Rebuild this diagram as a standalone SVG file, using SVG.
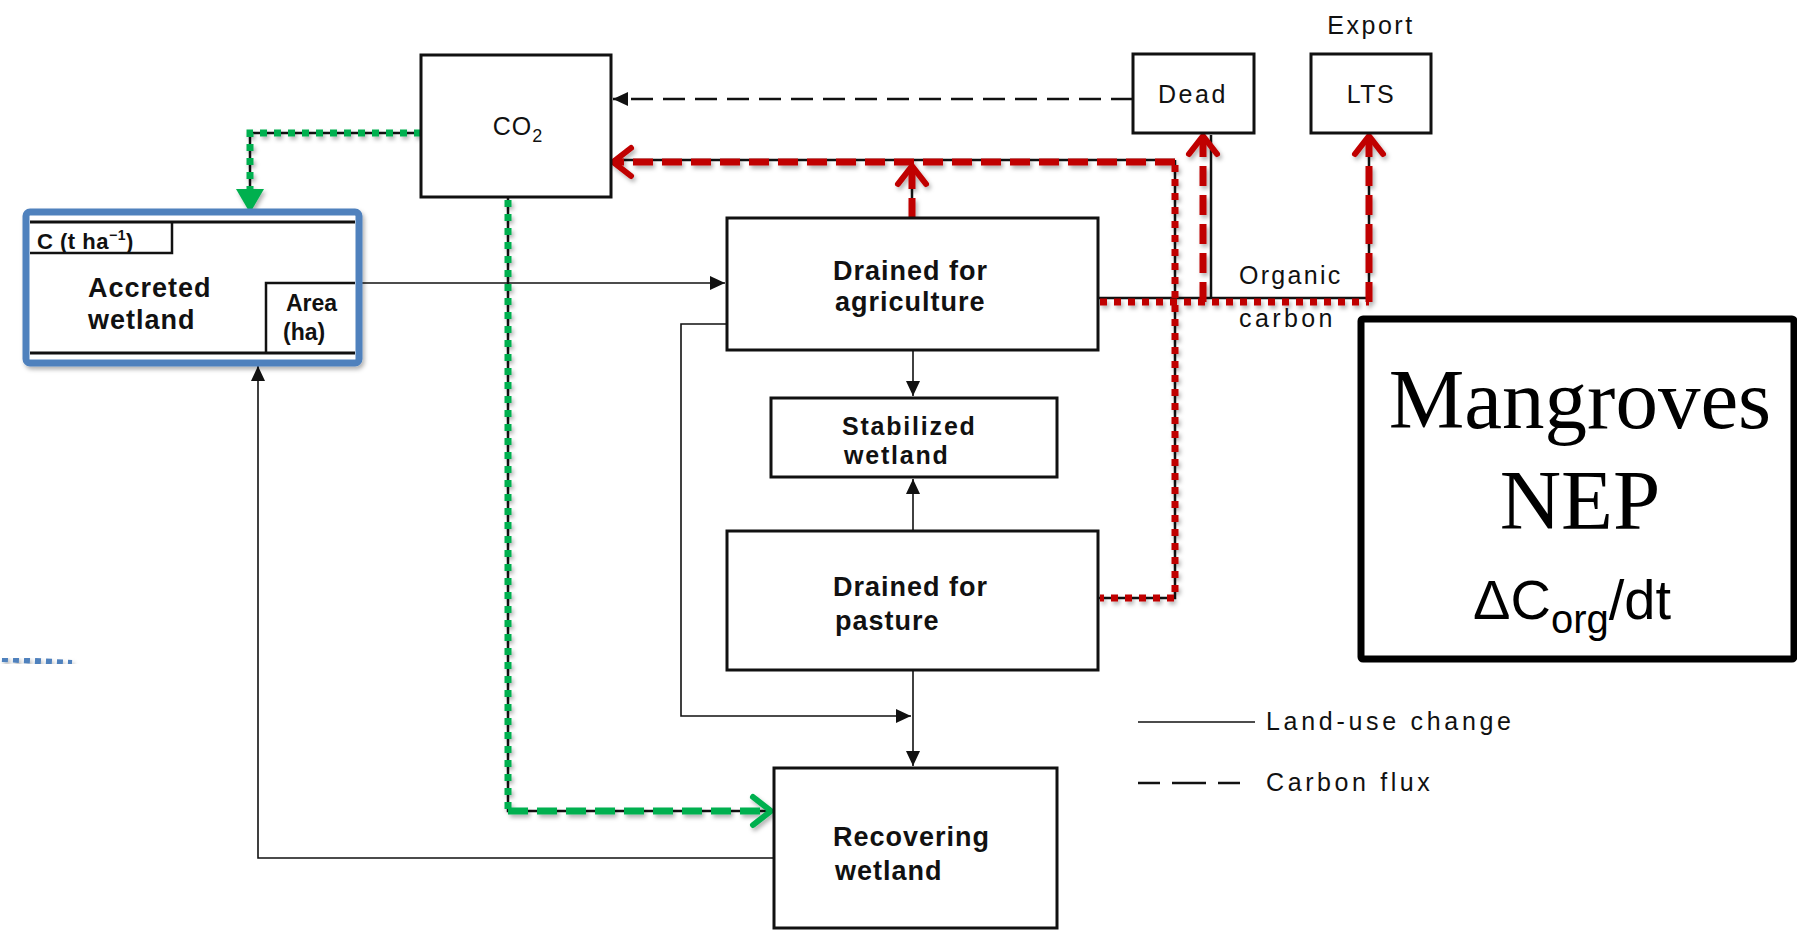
<svg xmlns="http://www.w3.org/2000/svg" width="1797" height="938" viewBox="0 0 1797 938">
<style>
.box{fill:#fff;stroke:#111;stroke-width:3}
.lbl{font-family:"Liberation Sans",Arial,sans-serif;font-weight:bold;font-size:27px;letter-spacing:1px;fill:#111}
.thin{font-family:"Liberation Sans",Arial,sans-serif;font-size:25px;letter-spacing:1.5px;fill:#111}
.ln{fill:none;stroke:#111;stroke-width:1.6}
.flux{fill:none;stroke:#111;stroke-width:2.5;stroke-dasharray:22 10}
.rdash{fill:none;stroke:#c00000;stroke-width:7;stroke-dasharray:20 9}
.rdot{fill:none;stroke:#c00000;stroke-width:7;stroke-dasharray:7 7}
.gdash{fill:none;stroke:#00b050;stroke-width:7;stroke-dasharray:20 9}
.gdot{fill:none;stroke:#00b050;stroke-width:7;stroke-dasharray:7 7}
</style>
<defs>
<filter id="sh" x="-10%" y="-10%" width="130%" height="130%">
<feDropShadow dx="2" dy="3" stdDeviation="2" flood-color="#000" flood-opacity="0.3"/>
</filter>
<marker id="ab" markerUnits="userSpaceOnUse" viewBox="-16 -8 18 16" refX="0" refY="0" markerWidth="18" markerHeight="16" orient="auto">
<path d="M-15,-7 L0,0 L-15,7 Z" fill="#111"/>
</marker>
<marker id="rc" markerUnits="userSpaceOnUse" viewBox="-24 -19 28 38" refX="0" refY="0" markerWidth="28" markerHeight="38" orient="auto">
<path d="M-18,-14 L0,0 L-18,14" fill="none" stroke="#c00000" stroke-width="6" stroke-linecap="round" stroke-linejoin="round"/>
</marker>
<marker id="gc" markerUnits="userSpaceOnUse" viewBox="-24 -19 28 38" refX="0" refY="0" markerWidth="28" markerHeight="38" orient="auto">
<path d="M-18,-14 L0,0 L-18,14" fill="none" stroke="#00b050" stroke-width="6" stroke-linecap="round" stroke-linejoin="round"/>
</marker>
</defs>
<rect width="1797" height="938" fill="#fff"/>

<g id="connectors">
<!-- land-use change lines -->
<path class="ln" d="M359,283 H725" marker-end="url(#ab)"/>
<path class="ln" d="M727,324 H681 V716 H911" marker-end="url(#ab)"/>
<path class="ln" d="M913,670 V766" marker-end="url(#ab)"/>
<path class="ln" d="M913,350 V396" marker-end="url(#ab)"/>
<path class="ln" d="M913,531 V479" marker-end="url(#ab)"/>
<path class="ln" d="M774,858 H258 V366" marker-end="url(#ab)"/>
<!-- black carbon flux lines -->
<path class="flux" d="M1133,99 H613" marker-end="url(#ab)"/>
<path fill="none" stroke="#111" stroke-width="2.5" d="M421,133 H250 V212"/>
<path fill="none" stroke="#111" stroke-width="2.5" d="M508,197 V811 H771"/>
<path fill="none" stroke="#111" stroke-width="2.5" d="M1175,160 H613"/>
<path fill="none" stroke="#111" stroke-width="2.5" d="M1175,160 V598 H1098"/>
<path fill="none" stroke="#111" stroke-width="2.5" d="M1098,298 H1369 V135"/>
<path fill="none" stroke="#111" stroke-width="2.5" d="M1211,298 V135"/>
<path fill="none" stroke="#111" stroke-width="2.5" d="M912,218 V162"/>
<!-- green -->
<g filter="url(#sh)">
<path class="gdot" d="M421,133 H250 V190"/>
<path d="M236,189 L264,189 L250,213 Z" fill="#00b050"/>
<path class="gdot" d="M508,200 V811"/>
<path class="gdash" d="M508,811 H771" marker-end="url(#gc)"/>
</g>
<!-- red -->
<g filter="url(#sh)">
<path class="rdash" d="M1175,162 H613" marker-end="url(#rc)"/>
<path class="rdash" d="M912,218 V166" marker-end="url(#rc)"/>
<path class="rdot" d="M1175,165 V598 H1100"/>
<path class="rdot" d="M1100,302 H1369"/>
<path class="rdash" d="M1203,302 V136" marker-end="url(#rc)"/>
<path class="rdash" d="M1369,302 V136" marker-end="url(#rc)"/>
</g>
<!-- blue dotted fragment -->
<path d="M2,659 L72,663" fill="none" stroke="#4f81bd" stroke-width="6" stroke-dasharray="6 5" filter="url(#sh)"/>
</g>

<g id="co2">
<rect class="box" x="421" y="55" width="190" height="142"/>
<text class="thin" x="518" y="135" text-anchor="middle" style="letter-spacing:1px">CO<tspan style="font-size:18px" dy="7">2</tspan></text>
</g>

<g id="dead">
<rect class="box" x="1133" y="54" width="121" height="79"/>
<text class="thin" x="1193" y="103" text-anchor="middle" style="letter-spacing:2.6px">Dead</text>
</g>

<g id="lts">
<rect class="box" x="1311" y="54" width="120" height="79"/>
<text class="thin" x="1371" y="103" text-anchor="middle">LTS</text>
<text class="thin" x="1371" y="34" text-anchor="middle" style="letter-spacing:2.5px">Export</text>
</g>

<g id="organic-carbon">
<text class="thin" x="1239" y="284" style="letter-spacing:2.3px">Organic</text>
<text class="thin" x="1239" y="327" style="letter-spacing:3.4px">carbon</text>
</g>

<g id="accreted">
<rect x="26" y="212" width="333" height="151" rx="4" fill="#fff" stroke="#4f81bd" stroke-width="7" filter="url(#sh)"/>
<path d="M30,222 H355 M30,353 H355" stroke="#111" stroke-width="3"/>
<path d="M30,253 H172 V222" fill="none" stroke="#111" stroke-width="2.5"/>
<path d="M266,353 V283 H355" fill="none" stroke="#111" stroke-width="2.5"/>
<text class="lbl" x="37" y="249" style="font-size:22px;letter-spacing:0.5px">C (t ha<tspan style="font-size:14px" dy="-9">−1</tspan><tspan dy="9">)</tspan></text>
<text class="lbl" x="88" y="297">Accreted</text>
<text class="lbl" x="88" y="329">wetland</text>
<text class="lbl" x="286" y="311" style="font-size:23px;letter-spacing:0">Area</text>
<text class="lbl" x="283" y="340" style="font-size:23px;letter-spacing:0">(ha)</text>
</g>

<g id="agriculture">
<rect class="box" x="727" y="218" width="371" height="132"/>
<text class="lbl" x="833" y="280">Drained for</text>
<text class="lbl" x="835" y="311">agriculture</text>
</g>

<g id="stabilized">
<rect class="box" x="771" y="398" width="286" height="79"/>
<text class="lbl" x="842" y="435" style="font-size:25px;letter-spacing:1.8px">Stabilized</text>
<text class="lbl" x="844" y="464" style="font-size:25px;letter-spacing:1.8px">wetland</text>
</g>

<g id="pasture">
<rect class="box" x="727" y="531" width="371" height="139"/>
<text class="lbl" x="833" y="596">Drained for</text>
<text class="lbl" x="835" y="630">pasture</text>
</g>

<g id="recovering">
<rect class="box" x="774" y="768" width="283" height="160"/>
<text class="lbl" x="833" y="846">Recovering</text>
<text class="lbl" x="835" y="880">wetland</text>
</g>

<g id="legend">
<path d="M1138,722 H1255" stroke="#111" stroke-width="1.6"/>
<text class="thin" x="1266" y="730" style="letter-spacing:3.7px">Land-use change</text>
<path d="M1138,783 H1250" stroke="#111" stroke-width="2.5" stroke-dasharray="22 12 34 12"/>
<text class="thin" x="1266" y="791" style="letter-spacing:3.6px">Carbon flux</text>
</g>

<g id="mangroves">
<rect x="1361" y="319" width="433" height="340" fill="#fff" stroke="#000" stroke-width="7" rx="2"/>
<text x="1580" y="428" text-anchor="middle" font-family="'Liberation Serif','Times New Roman',serif" font-size="85">Mangroves</text>
<text x="1580" y="529" text-anchor="middle" font-family="'Liberation Serif','Times New Roman',serif" font-size="85">NEP</text>
<text x="1572" y="619" text-anchor="middle" font-family="'Liberation Sans',Arial,sans-serif" font-size="56">ΔC<tspan font-size="40" dy="14">org</tspan><tspan dy="-14">/dt</tspan></text>
</g>
</svg>
